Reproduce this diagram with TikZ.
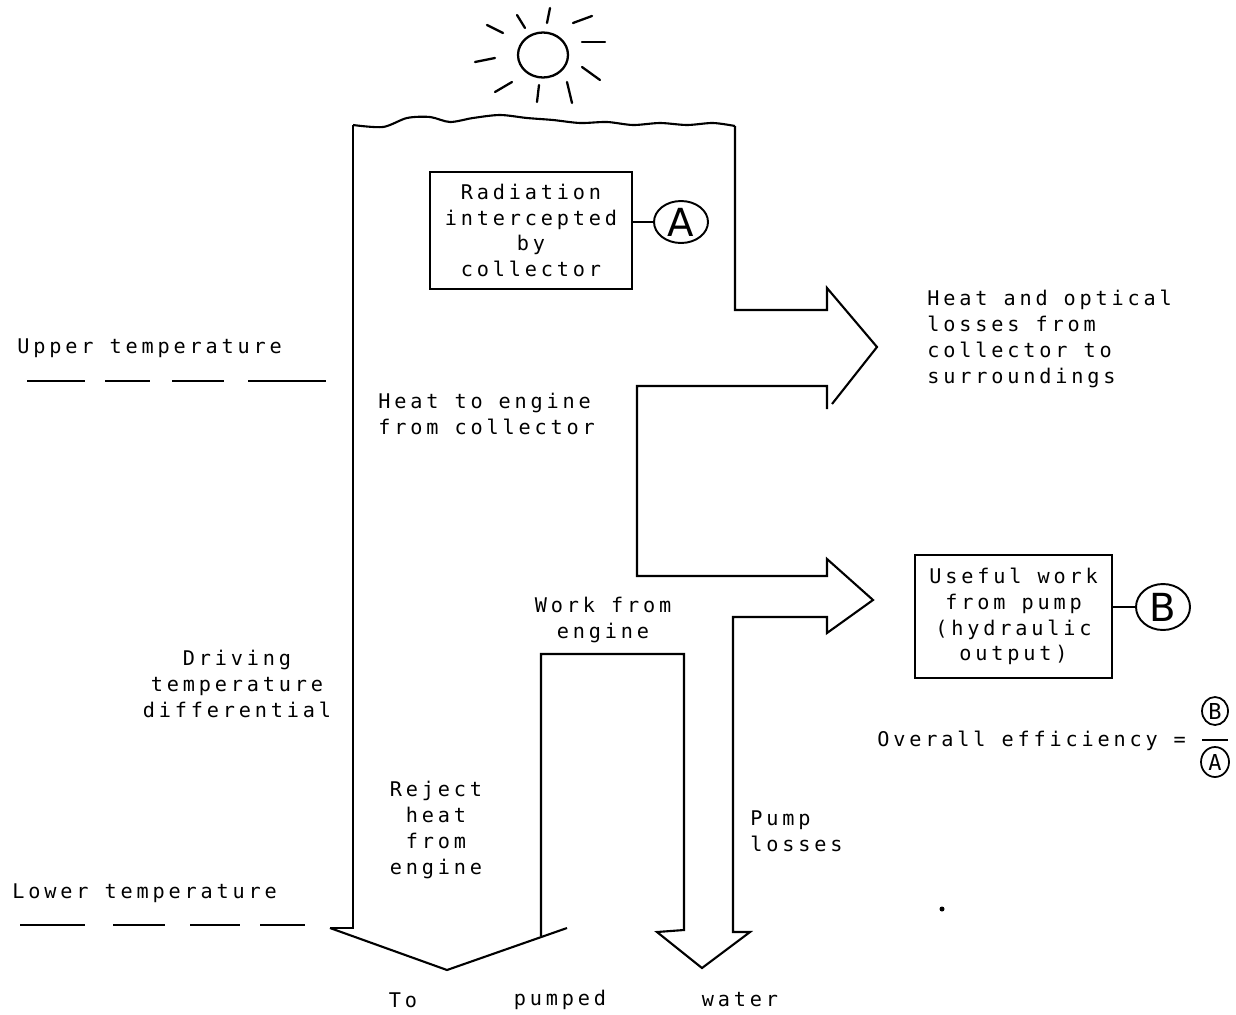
\documentclass[tikz,border=0pt]{standalone}
\usepackage{fontspec}
\usetikzlibrary{shapes.geometric}
\newfontfamily\tw[LetterSpace=19]{DejaVu Sans Mono}
\newfontfamily\twplain{DejaVu Sans Mono}
\newfontfamily\hand{DejaVu Sans}
\begin{document}
\begin{tikzpicture}[x=0.02cm,y=-0.02cm,
  flow/.style={line width=1.2pt, line join=miter},
  lbl/.style={font=\tw\fontsize{11.5}{14.74}\selectfont, inner sep=0pt, align=center},
  lbll/.style={lbl, align=left},
  box/.style={draw, line width=1.1pt, inner sep=0pt},
  tag/.style={draw, ellipse, line width=1.1pt, inner sep=0pt},
  bigletter/.style={font=\hand\fontsize{22}{22}\selectfont},
  smallletter/.style={font=\twplain\fontsize{12.5}{12.5}\selectfont},
  ray/.style={line width=1.3pt, line cap=round},
  tempdash/.style={line width=0.9pt}]
\useasboundingbox (0,0) rectangle (1236,1014);

% sun
\node[tag, line width=1.3pt, minimum width=1.0cm, minimum height=0.9cm] (sun) at (543,55) {};
\draw[ray] (487,25) -- (503,33);
\draw[ray] (517,15) -- (525,28);
\draw[ray] (550,8) -- (547,23);
\draw[ray] (573,23) -- (592,16);
\draw[ray] (582,42) -- (605,42);
\draw[ray] (582,67) -- (600,80);
\draw[ray] (567,82) -- (572,103);
\draw[ray] (539,85) -- (537,102);
\draw[ray] (512,82) -- (495,92);
\draw[ray] (495,58) -- (475,62);

% flow outline
\draw[flow] (330,928) -- (447,970) -- (567,928);
\draw[flow] (330,928) -- (353,928) -- (353,125);
\draw[flow] plot[smooth] coordinates {(353,125) (383,127) (407,118) (430,117) (450,122) (473,118) (500,115) (527,118) (553,120) (580,123) (607,122) (633,125) (660,123) (687,125) (713,123) (735,126)};
\draw[flow] (735,126) -- (735,310) -- (827,310) -- (827,288) -- (877,347) -- (832,404);
\draw[flow] (827,409) -- (827,386) -- (637,386) -- (637,576) -- (827,576) -- (827,559) -- (873,600) -- (827,633) -- (827,617) -- (733,617) -- (733,932) -- (750,932) -- (702,968) -- (657,932) -- (684,930) -- (684,654) -- (541,654) -- (541,936);

% boxes and tags
\node[box, lbl, minimum width=4.04cm, minimum height=2.34cm] (rad) at (531,230.5) {Radiation\\intercepted\\by\\collector};
\node[tag, bigletter, minimum width=1.08cm, minimum height=0.84cm] (A) at (681,222) {A};
\draw[flow] (A.west) -- (A.west -| rad.east);

\node[box, lbl, minimum width=3.94cm, minimum height=2.46cm] (use) at (1013.5,616.5) {Useful work\\from pump\\(hydraulic\\output)};
\node[tag, bigletter, minimum width=1.08cm, minimum height=0.92cm] (B) at (1163,607) {B};
\draw[flow] (B.west) -- (B.west -| use.east);

% labels
\node[lbll, anchor=west] (heatloss) at (927,339) {Heat and optical\\losses from\\collector to\\surroundings};
\node[lbll, anchor=west] (upper) at (17,348) {Upper temperature};
\node[lbll, anchor=west] (lower) at (12,893) {Lower temperature};
\node[lbl] (driving) at (237,684) {Driving\\temperature\\differential};
\node[lbll, anchor=west] (heateng) at (378,414) {Heat to engine\\from collector};
\node[lbl] (work) at (603,620) {Work from\\engine};
\node[lbl] (reject) at (436,830) {Reject\\heat\\from\\engine};
\node[lbll, anchor=west] (pump) at (750,831) {Pump\\losses};
\node[lbl] (to) at (403,1000) {To};
\node[lbl] (pumped) at (560,1000) {pumped};
\node[lbl] (water) at (740,1000) {water};

% efficiency
\node[lbll, anchor=west] (eff) at (877,741) {Overall efficiency =};
\node[tag, smallletter, line width=1pt, minimum width=0.52cm, minimum height=0.56cm] (fb) at (1215,711) {B};
\node[tag, smallletter, line width=1pt, minimum width=0.56cm, minimum height=0.6cm] (fa) at (1215,762) {A};
\coordinate (barL) at (1202,740);
\coordinate (barR) at (1228,740);
\draw[line width=1.4pt] (barL) -- (barR);

% temperature dashes
\foreach \a/\b in {27/85,105/150,172/224,248/326} \draw[tempdash] (\a,381) -- (\b,381);
\foreach \a/\b in {20/85,113/165,190/240,260/305} \draw[tempdash] (\a,925) -- (\b,925);

% speck
\fill (942,909) circle (0.05cm);
\end{tikzpicture}
\end{document}
